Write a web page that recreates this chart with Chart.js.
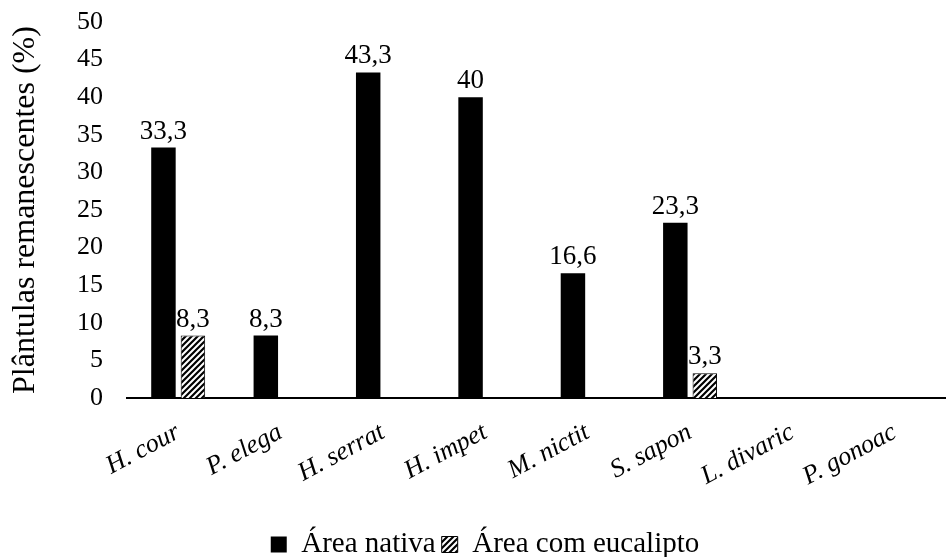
<!DOCTYPE html>
<html>
<head>
<meta charset="utf-8">
<script src="https://cdn.jsdelivr.net/npm/chart.js@4.4.1/dist/chart.umd.min.js"></script>
<style>
  html, body { margin: 0; padding: 0; background: #fff; }
  #wrap { width: 946px; height: 557px; }
</style>
</head>
<body>
<div id="wrap"><canvas id="c" width="946" height="557"></canvas></div>
<script>
// Seedlings remaining per species, native area vs. eucalyptus area
const species = ['H. cour', 'P. elega', 'H. serrat', 'H. impet', 'M. nictit', 'S. sapon', 'L. divaric', 'P. gonoac'];
const nativeArea = [33.3, 8.3, 43.3, 40, 16.6, 23.3, 0, 0];
const eucalyptusArea = [8.3, 0, 0, 0, 0, 3.3, 0, 0];
const seriesNames = ['Área nativa', 'Área com eucalipto'];
const yTicks = [0, 5, 10, 15, 20, 25, 30, 35, 40, 45, 50];

const SERIF = '"Liberation Serif", "Times New Roman", serif';

// diagonal black/white hatch for the second series
function makeHatch() {
  const s = 6;
  const t = document.createElement('canvas');
  t.width = s; t.height = s;
  const g = t.getContext('2d');
  g.fillStyle = '#fff';
  g.fillRect(0, 0, s, s);
  g.strokeStyle = '#000';
  g.lineWidth = 2.2;
  g.beginPath();
  g.moveTo(-s, s); g.lineTo(s, -s);
  g.moveTo(0, s); g.lineTo(s, 0);
  g.moveTo(0, 2 * s); g.lineTo(2 * s, 0);
  g.stroke();
  return document.getElementById('c').getContext('2d').createPattern(t, 'repeat');
}
const hatch = makeHatch();

// value labels above non-zero bars, decimal comma
const valueLabels = {
  id: 'valueLabels',
  afterDatasetsDraw(chart) {
    const ctx = chart.ctx;
    ctx.save();
    ctx.font = '27px ' + SERIF;
    ctx.fillStyle = '#000';
    ctx.textAlign = 'center';
    ctx.textBaseline = 'alphabetic';
    chart.data.datasets.forEach((ds, i) => {
      const meta = chart.getDatasetMeta(i);
      meta.data.forEach((bar, j) => {
        const v = ds.data[j];
        if (!v) return;
        ctx.fillText(String(v).replace('.', ','), bar.x, bar.y - 9);
      });
    });
    ctx.restore();
  }
};

// nudge the legend row a little to the right of the canvas centre
const legendOffset = {
  id: 'legendOffset',
  afterLayout(chart) {
    if (chart.legend) {
      chart.legend.left += 12;
      chart.legend.right += 12;
    }
  }
};

new Chart(document.getElementById('c'), {
  type: 'bar',
  data: {
    labels: species,
    datasets: [
      {
        label: seriesNames[0],
        data: nativeArea,
        backgroundColor: '#000',
        borderColor: '#000',
        borderWidth: 0,
        categoryPercentage: 0.576,
        barPercentage: 0.83
      },
      {
        label: seriesNames[1],
        data: eucalyptusArea,
        backgroundColor: hatch,
        borderColor: '#000',
        borderWidth: 1,
        categoryPercentage: 0.576,
        barPercentage: 0.83
      }
    ]
  },
  options: {
    responsive: false,
    animation: false,
    devicePixelRatio: 1,
    layout: { padding: { top: 22, right: 0, bottom: -12, left: 0 } },
    plugins: {
      tooltip: { enabled: false },
      legend: {
        position: 'bottom',
        labels: {
          font: { family: SERIF, size: 29 },
          color: '#000',
          boxWidth: 16,
          boxHeight: 16,
          padding: 6
        }
      }
    },
    scales: {
      x: {
        grid: { display: false, drawTicks: false },
        border: { display: true, color: '#000', width: 2 },
        ticks: {
          color: '#000',
          font: { family: SERIF, size: 26, style: 'italic' },
          minRotation: 28,
          maxRotation: 28,
          autoSkip: false,
          padding: 19
        },
        afterFit(scale) { scale.height = 126; }
      },
      y: {
        min: 0,
        max: 50,
        grid: { display: false, drawTicks: false },
        border: { display: false },
        afterBuildTicks(scale) { scale.ticks = yTicks.map(v => ({ value: v })); },
        ticks: {
          color: '#000',
          font: { family: SERIF, size: 26 },
          padding: 24
        },
        title: {
          display: true,
          text: 'Plântulas remanescentes (%)',
          color: '#000',
          font: { family: SERIF, size: 32 },
          padding: { top: 6, bottom: 0 }
        },
        afterFit(scale) {
          scale.width = 127;
          scale.paddingTop = 0;
          scale.paddingBottom = 0;
        }
      }
    }
  },
  plugins: [valueLabels, legendOffset]
});
</script>
</body>
</html>
